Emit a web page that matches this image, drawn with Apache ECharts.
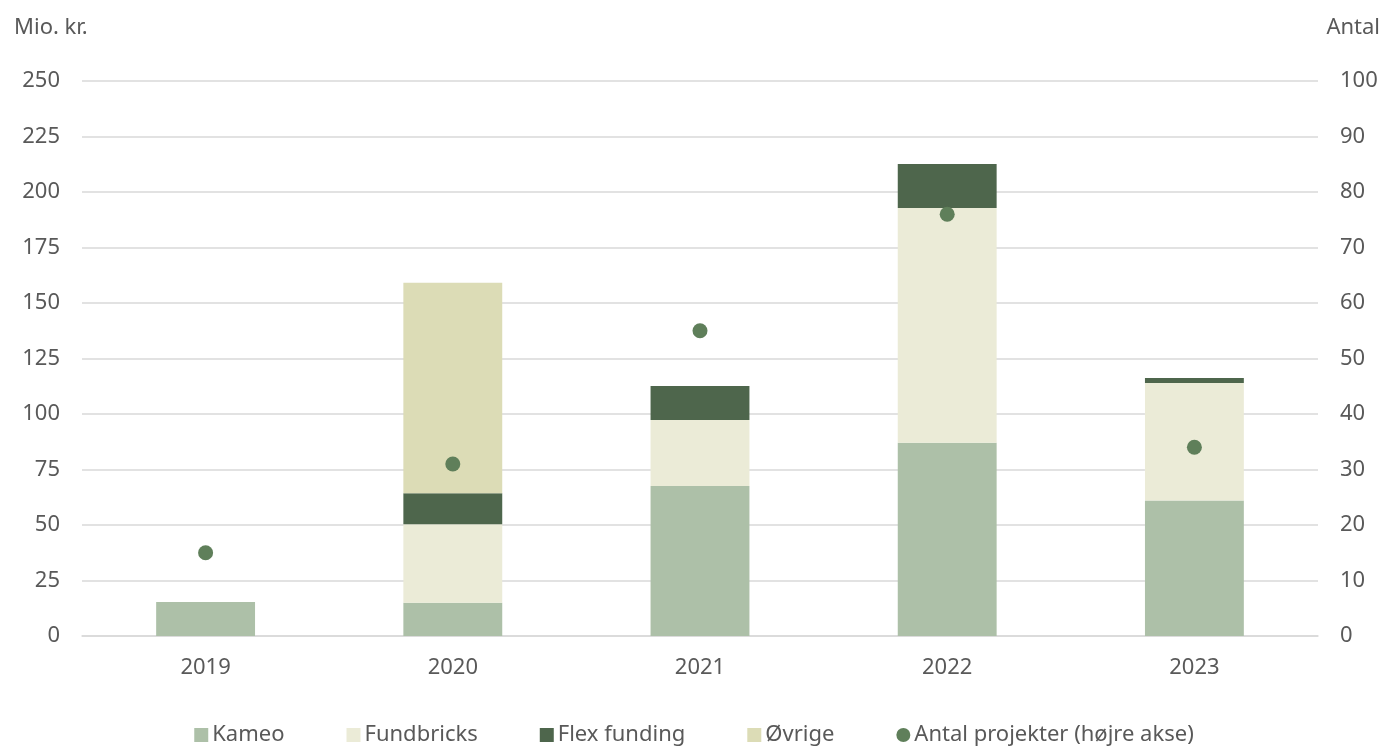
<!DOCTYPE html>
<html><head><meta charset="utf-8">
<script src="https://cdn.jsdelivr.net/npm/echarts@6/dist/echarts.min.js"></script>
<style>html,body{margin:0;padding:0;background:#fff}#c{width:1388px;height:747px}</style>
</head><body><div id="c"></div>
<script>
const years = ['2019','2020','2021','2022','2023'];
const kameo = [15.3, 15, 67.6, 87, 61];
const fundbricks = [0, 35.3, 29.7, 105.8, 53];
const flexFunding = [0, 14, 15.3, 19.8, 2.2];
const ovrige = [0, 94.8, 0, 0, 0];
const antalProjekter = [15, 31, 55, 76, 34];
const leftTicks = [0, 250, 25];
const rightTicks = [0, 100, 10];

const font = 'Noto Sans';
const fs = 22;
const txt = '#595959';
const chart = echarts.init(document.getElementById('c'));
const barCommon = {type:'bar', stack:'a', barWidth:'40%', yAxisIndex:0};
chart.setOption({
  animation:false,
  textStyle:{fontFamily:font},
  grid:{left:82, right:70, top:81, bottom:111},
  legend:{
    top:719, left:'center', itemGap:62, itemWidth:14, itemHeight:14,
    textStyle:{fontFamily:font, fontSize:fs, color:txt, padding:[0,0,0,-1]},
    data:[
      {name:'Kameo', icon:'rect'},
      {name:'Fundbricks', icon:'rect'},
      {name:'Flex funding', icon:'rect'},
      {name:'Øvrige', icon:'rect'},
      {name:'Antal projekter (højre akse)', icon:'circle'}
    ]
  },
  xAxis:{type:'category', data:years,
    axisLine:{lineStyle:{color:'#d9d9d9', width:1.5}}, axisTick:{show:false},
    axisLabel:{fontFamily:font, fontSize:fs, color:txt, margin:21}},
  yAxis:[
    {type:'value', min:leftTicks[0], max:leftTicks[1], interval:leftTicks[2],
     name:'Mio. kr.', nameLocation:'end', nameGap:42,
     nameTextStyle:{fontFamily:font, fontSize:fs, color:txt, align:'left', padding:[0,0,0,-68]},
     axisLabel:{fontFamily:font, fontSize:fs, color:txt, margin:22},
     splitLine:{lineStyle:{color:'#d9d9d9', width:1.5}}},
    {type:'value', min:rightTicks[0], max:rightTicks[1], interval:rightTicks[2],
     name:'Antal', nameLocation:'end', nameGap:42,
     nameTextStyle:{fontFamily:font, fontSize:fs, color:txt, align:'right', padding:[0,-62,0,0]},
     axisLabel:{fontFamily:font, fontSize:fs, color:txt, margin:22},
     splitLine:{show:false}}
  ],
  series:[
    Object.assign({name:'Kameo', data:kameo, itemStyle:{color:'#adc0a8'}}, barCommon),
    Object.assign({name:'Fundbricks', data:fundbricks, itemStyle:{color:'#ebebd7'}}, barCommon),
    Object.assign({name:'Flex funding', data:flexFunding, itemStyle:{color:'#4e664c'}}, barCommon),
    Object.assign({name:'Øvrige', data:ovrige, itemStyle:{color:'#dcdcb6'}}, barCommon),
    {name:'Antal projekter (højre akse)', type:'scatter', yAxisIndex:1, data:antalProjekter,
     symbolSize:15, itemStyle:{color:'#5f7f5a', opacity:1}}
  ]
});
</script></body></html>
